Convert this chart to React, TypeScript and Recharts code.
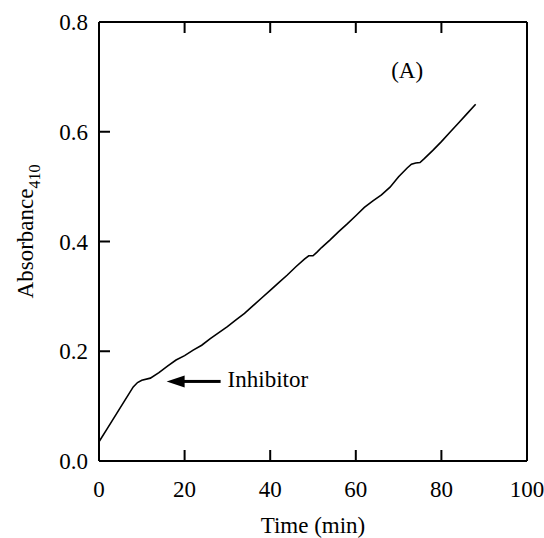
import { LineChart, Line, XAxis, YAxis, ReferenceDot } from 'recharts';

const TIME = [
  0, 2, 4, 6, 8, 9, 10, 12, 14, 16, 18, 20, 22, 24, 26, 28, 30, 32, 34, 36, 38, 40, 42, 44, 46, 48,
  49, 50, 51, 52, 54, 56, 58, 60, 62, 64, 66, 68, 70, 72, 73, 74, 75, 76, 78, 80, 82, 84, 86, 88,
];
const ABSORBANCE = [
  0.035, 0.06, 0.085, 0.11, 0.135, 0.143, 0.147, 0.151, 0.161, 0.173, 0.184, 0.192, 0.202, 0.211,
  0.223, 0.234, 0.245, 0.257, 0.269, 0.283, 0.297, 0.311, 0.325, 0.339, 0.354, 0.368, 0.374, 0.374,
  0.381, 0.389, 0.403, 0.418, 0.432, 0.447, 0.462, 0.474, 0.485, 0.499, 0.518, 0.534, 0.541, 0.543,
  0.544, 0.551, 0.566, 0.582, 0.599, 0.616, 0.633, 0.65,
];
const X_TICKS = [0, 20, 40, 60, 80, 100];
const Y_TICKS = [0, 0.2, 0.4, 0.6, 0.8];

const data = TIME.map((t, i) => ({ t, a: ABSORBANCE[i] }));

const FONT = '"Liberation Serif", "Times New Roman", serif';
const INK = '#000';
const FS = 23;
const TICK = 11;

// ticks point into the plot, labels drawn by hand
const BottomTick = ({ x, y, payload }: any) => (
  <g>
    <line x1={x} x2={x} y1={y} y2={y - TICK} stroke={INK} strokeWidth={2} />
    <text x={x} y={y + 36} textAnchor="middle" fontSize={FS} fontFamily={FONT} fill={INK}>
      {payload.value}
    </text>
  </g>
);

const LeftTick = ({ x, y, payload }: any) => (
  <g>
    <line x1={x} x2={x + TICK} y1={y} y2={y} stroke={INK} strokeWidth={2} />
    <text x={x - 11} y={y + 8} textAnchor="end" fontSize={FS} fontFamily={FONT} fill={INK}>
      {Number(payload.value).toFixed(1)}
    </text>
  </g>
);

const TopTick = ({ x, y }: any) => (
  <line x1={x} x2={x} y1={y} y2={y + TICK} stroke={INK} strokeWidth={2} />
);

const RightTick = ({ x, y }: any) => (
  <line x1={x} x2={x - TICK} y1={y} y2={y} stroke={INK} strokeWidth={2} />
);

const YLabel = ({ viewBox }: any) => {
  const cx = 33;
  const cy = viewBox.y + viewBox.height / 2 - 10;
  return (
    <text
      x={cx}
      y={cy}
      transform={`rotate(-90, ${cx}, ${cy})`}
      textAnchor="middle"
      fontSize={FS}
      fontFamily={FONT}
      fill={INK}
    >
      Absorbance
      <tspan fontSize={16} dy={7}>
        410
      </tspan>
    </text>
  );
};

const XLabel = ({ viewBox }: any) => (
  <text
    x={viewBox.x + viewBox.width / 2}
    y={533}
    textAnchor="middle"
    fontSize={FS}
    fontFamily={FONT}
    fill={INK}
  >
    Time (min)
  </text>
);

const InhibitorLabel = ({ viewBox }: any) => {
  const { x, y } = viewBox;
  return (
    <g>
      <polygon points={`${x},${y} ${x + 18},${y - 6} ${x + 18},${y + 6}`} fill={INK} />
      <rect x={x + 16} y={y - 1.5} width={38} height={3} fill={INK} />
      <text x={x + 61} y={y + 6} fontSize={FS} fontFamily={FONT} fill={INK}>
        Inhibitor
      </text>
    </g>
  );
};

const PanelLabel = ({ viewBox }: any) => (
  <text
    x={viewBox.x}
    y={viewBox.y + 7}
    textAnchor="middle"
    fontSize={FS}
    fontFamily={FONT}
    fill={INK}
  >
    (A)
  </text>
);

export default function App() {
  return (
    <div style={{ position: 'absolute', left: 0, top: 0, width: 544, height: 538, background: '#fff' }}>
      <LineChart width={544} height={538} data={data} margin={{ top: 21, right: 16, bottom: 17, left: 0 }}>
        <XAxis
          xAxisId="x"
          dataKey="t"
          type="number"
          domain={[0, 100]}
          ticks={X_TICKS}
          height={60}
          tickSize={0}
          tickMargin={0}
          tickLine={false}
          tick={<BottomTick />}
          axisLine={{ stroke: INK, strokeWidth: 2 }}
          label={<XLabel />}
        />
        <XAxis
          xAxisId="top"
          dataKey="t"
          type="number"
          orientation="top"
          domain={[0, 100]}
          ticks={X_TICKS}
          height={1}
          tickSize={0}
          tickMargin={0}
          tickLine={false}
          tick={<TopTick />}
          axisLine={{ stroke: INK, strokeWidth: 2 }}
        />
        <YAxis
          yAxisId="y"
          type="number"
          domain={[0, 0.8]}
          ticks={Y_TICKS}
          width={99}
          tickSize={0}
          tickMargin={0}
          tickLine={false}
          tick={<LeftTick />}
          axisLine={{ stroke: INK, strokeWidth: 2 }}
          label={<YLabel />}
        />
        <YAxis
          yAxisId="right"
          type="number"
          orientation="right"
          domain={[0, 0.8]}
          ticks={Y_TICKS}
          width={1}
          tickSize={0}
          tickMargin={0}
          tickLine={false}
          tick={<RightTick />}
          axisLine={{ stroke: INK, strokeWidth: 2 }}
        />
        <Line
          xAxisId="x"
          yAxisId="y"
          dataKey="a"
          type="linear"
          stroke={INK}
          strokeWidth={1.6}
          dot={false}
          isAnimationActive={false}
        />
        <ReferenceDot xAxisId="x" yAxisId="y" x={15.8} y={0.145} r={0} label={<InhibitorLabel />} />
        <ReferenceDot xAxisId="x" yAxisId="y" x={72} y={0.71} r={0} label={<PanelLabel />} />
      </LineChart>
    </div>
  );
}
